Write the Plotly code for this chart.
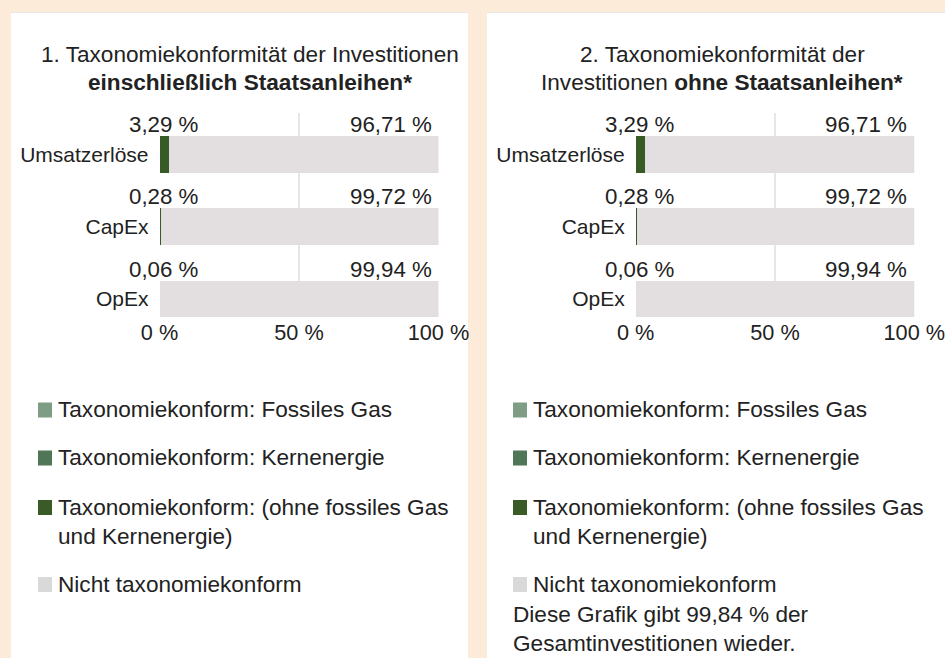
import plotly.graph_objects as go

# ---------------- data ----------------
categories = ["Umsatzerlöse", "CapEx", "OpEx"]

series_names = [
    "Taxonomiekonform: Fossiles Gas",
    "Taxonomiekonform: Kernenergie",
    "Taxonomiekonform: (ohne fossiles Gas<br>und Kernenergie)",
    "Nicht taxonomiekonform",
]

# Panel 1: including sovereign bonds
p1_gas = [0.0, 0.0, 0.0]
p1_nuclear = [0.0, 0.0, 0.0]
p1_aligned = [3.29, 0.28, 0.06]
p1_not_aligned = [96.71, 99.72, 99.94]

# Panel 2: excluding sovereign bonds
p2_gas = [0.0, 0.0, 0.0]
p2_nuclear = [0.0, 0.0, 0.0]
p2_aligned = [3.29, 0.28, 0.06]
p2_not_aligned = [96.71, 99.72, 99.94]

x_tickvals = [0, 50, 100]
x_ticktext = ["0 %", "50 %", "100 %"]

titles_line1 = ["1. Taxonomiekonformität der Investitionen", "2. Taxonomiekonformität der"]
titles_line2 = ["<b>einschließlich Staatsanleihen*</b>", "Investitionen <b>ohne Staatsanleihen*</b>"]
footnote = "Diese Grafik gibt 99,84 % der<br>Gesamtinvestitionen wieder."

# ---------------- styling ----------------
W, H = 945, 658
BG = "#FDEBD9"
TXT = "#222222"
FONT = "Liberation Sans, Arial, sans-serif"
bar_colors = ["#7F9C84", "#4F7656", "#385A27", "#E3DFE0"]
legend_colors = ["#7F9C84", "#4F7656", "#3A5A28", "#D9D9D9"]
BIG = 22.6


def px_x(p):
    return p / W


def px_y(p):
    return 1 - p / H


def fmt(v):
    return f"{v:.2f}".replace(".", ",") + " %"


panels = [
    dict(data=[p1_gas, p1_nuclear, p1_aligned, p1_not_aligned],
         box=(11, 468), title_x=250, legend_x=38, xa="x", ya="y"),
    dict(data=[p2_gas, p2_nuclear, p2_aligned, p2_not_aligned],
         box=(487, 945), title_x=722, legend_x=513, xa="x2", ya="y2"),
]

fig = go.Figure()
ypos = list(range(len(categories)))

shapes = []
annotations = []

for k, p in enumerate(panels):
    for s, vals in enumerate(p["data"]):
        fig.add_trace(go.Bar(
            orientation="h", y=ypos, x=vals, width=0.512,
            name=series_names[s], marker=dict(color=bar_colors[s], line=dict(width=0)),
            xaxis=p["xa"], yaxis=p["ya"], showlegend=False, hoverinfo="skip",
        ))
    aligned = p["data"][2]
    not_aligned = p["data"][3]
    for i in ypos:
        annotations.append(dict(x=0, y=i, xref=p["xa"], yref=p["ya"], text=fmt(aligned[i]),
                                showarrow=False, xanchor="center", yanchor="middle",
                                xshift=4, yshift=30, font=dict(size=22.3, color=TXT, family=FONT)))
        annotations.append(dict(x=100, y=i, xref=p["xa"], yref=p["ya"], text=fmt(not_aligned[i]),
                                showarrow=False, xanchor="right", yanchor="middle",
                                xshift=-5, yshift=30, font=dict(size=22.3, color=TXT, family=FONT)))
    # white panel with faint top edge
    shapes.append(dict(type="rect", xref="paper", yref="paper", layer="below",
                       x0=px_x(p["box"][0]), x1=px_x(p["box"][1]), y0=0, y1=px_y(12),
                       fillcolor="white", line=dict(width=0)))
    shapes.append(dict(type="line", xref="paper", yref="paper", layer="below",
                       x0=px_x(p["box"][0]), x1=px_x(p["box"][1]), y0=px_y(12.5), y1=px_y(12.5),
                       line=dict(color="#ECE6EA", width=1)))
    # title (two lines)
    annotations.append(dict(x=px_x(p["title_x"]), y=px_y(55), xref="paper", yref="paper",
                            text=titles_line1[k], showarrow=False, xanchor="center", yanchor="middle",
                            font=dict(size=BIG, color=TXT, family=FONT)))
    annotations.append(dict(x=px_x(p["title_x"]), y=px_y(82), xref="paper", yref="paper",
                            text=titles_line2[k], showarrow=False, xanchor="center", yanchor="middle",
                            font=dict(size=BIG, color=TXT, family=FONT)))
    # legend (manual)
    lx = p["legend_x"]
    centers = [410, 458, 507.5, 584.5]
    for s, cy in enumerate(centers):
        shapes.append(dict(type="rect", xref="paper", yref="paper", layer="above",
                           x0=px_x(lx), x1=px_x(lx + 14), y0=px_y(cy + 7.5), y1=px_y(cy - 7.5),
                           fillcolor=legend_colors[s], line=dict(width=0)))
        annotations.append(dict(x=px_x(lx + 18), y=px_y(cy - 14.6), xref="paper", yref="paper",
                                text=series_names[s], showarrow=False, xanchor="left", yanchor="top",
                                align="left", font=dict(size=BIG, color=TXT, family=FONT)))

annotations.append(dict(x=px_x(511), y=px_y(600), xref="paper", yref="paper", text=footnote,
                        showarrow=False, xanchor="left", yanchor="top", align="left",
                        font=dict(size=BIG, color=TXT, family=FONT)))

ydom = [px_y(317), px_y(113)]
axis_common_x = dict(range=[0, 100], tickvals=x_tickvals, ticktext=x_ticktext, showgrid=True,
                     gridcolor="#E6E6E6", gridwidth=2, zeroline=False, showline=False, ticks="",
                     automargin=False, ticklabeloverflow="allow",
                     tickfont=dict(size=21.7, color=TXT, family=FONT), fixedrange=True)
axis_common_y = dict(range=[2.249, -0.574], tickvals=ypos, ticktext=categories, showgrid=False,
                     zeroline=False, showline=False, ticks="", ticklabelstandoff=10,
                     automargin=False, ticklabeloverflow="allow",
                     tickfont=dict(size=21, color=TXT, family=FONT), fixedrange=True)

fig.update_layout(
    width=W, height=H, margin=dict(l=0, r=0, t=0, b=0, autoexpand=False),
    paper_bgcolor=BG, plot_bgcolor="white", barmode="stack", bargap=0,
    font=dict(family=FONT, color=TXT),
    xaxis=dict(domain=[px_x(159.5), px_x(438.5)], anchor="y", **axis_common_x),
    yaxis=dict(domain=ydom, anchor="x", **axis_common_y),
    xaxis2=dict(domain=[px_x(635.7), px_x(914.3)], anchor="y2", **axis_common_x),
    yaxis2=dict(domain=ydom, anchor="x2", **axis_common_y),
    shapes=shapes, annotations=annotations, showlegend=False,
)

fig.write_html(
    "out.html",
    config={"displayModeBar": False, "staticPlot": False},
    post_script="document.body.style.margin='0px';document.body.style.overflow='hidden';",
)
